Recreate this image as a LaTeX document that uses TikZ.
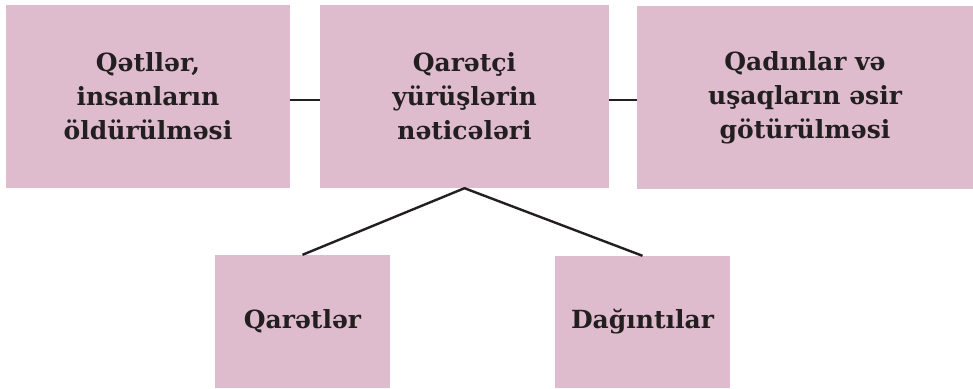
\documentclass[tikz,border=0pt]{standalone}
\usepackage{fontspec}
\setmainfont{DejaVu Serif}
\definecolor{kutupembe}{HTML}{DEBCCD}
\definecolor{cizgi}{HTML}{231F20}
\tikzset{
  kutu/.style={rectangle, fill=kutupembe, inner sep=0pt, align=center,
    text=cizgi, font=\fontsize{25}{34}\selectfont\bfseries},
  bag/.style={draw=cizgi, line width=2.4pt}
}
\begin{document}
\begin{tikzpicture}[x=1pt,y=-1pt]
  \useasboundingbox (0,0) rectangle (973,388);
  \node[kutu, minimum width=284pt, minimum height=183pt] (qetl) at (148,96.5)
    {Qətllər,\\insanların\\öldürülməsi}; %sol
  \node[kutu, minimum width=289pt, minimum height=183pt] (netice) at (464.5,96.5)
    {Qarətçi\\yürüşlərin\\nəticələri}; %orta
  \node[kutu, minimum width=336pt, minimum height=183pt] (esir) at (805,97.5)
    {Qadınlar və\\uşaqların əsir\\götürülməsi}; %sağ
  \node[kutu, minimum width=175pt, minimum height=133pt] (qaret) at (302.5,321.5)
    {Qarətlər}; %aşağı sol
  \node[kutu, minimum width=175pt, minimum height=132pt] (daginti) at (642.5,322)
    {Dağıntılar}; %aşağı sağ

  \coordinate[yshift=-3.5pt] (solbag) at (qetl.east);
  \coordinate[yshift=-3.5pt] (sagbag) at (netice.east);
  \draw[bag] (solbag) -- (solbag -| netice.west);
  \draw[bag] (sagbag) -- (sagbag -| esir.west);
  \draw[bag] (qaret.north) -- (netice.south) -- (daginti.north);
\end{tikzpicture}
\end{document}
